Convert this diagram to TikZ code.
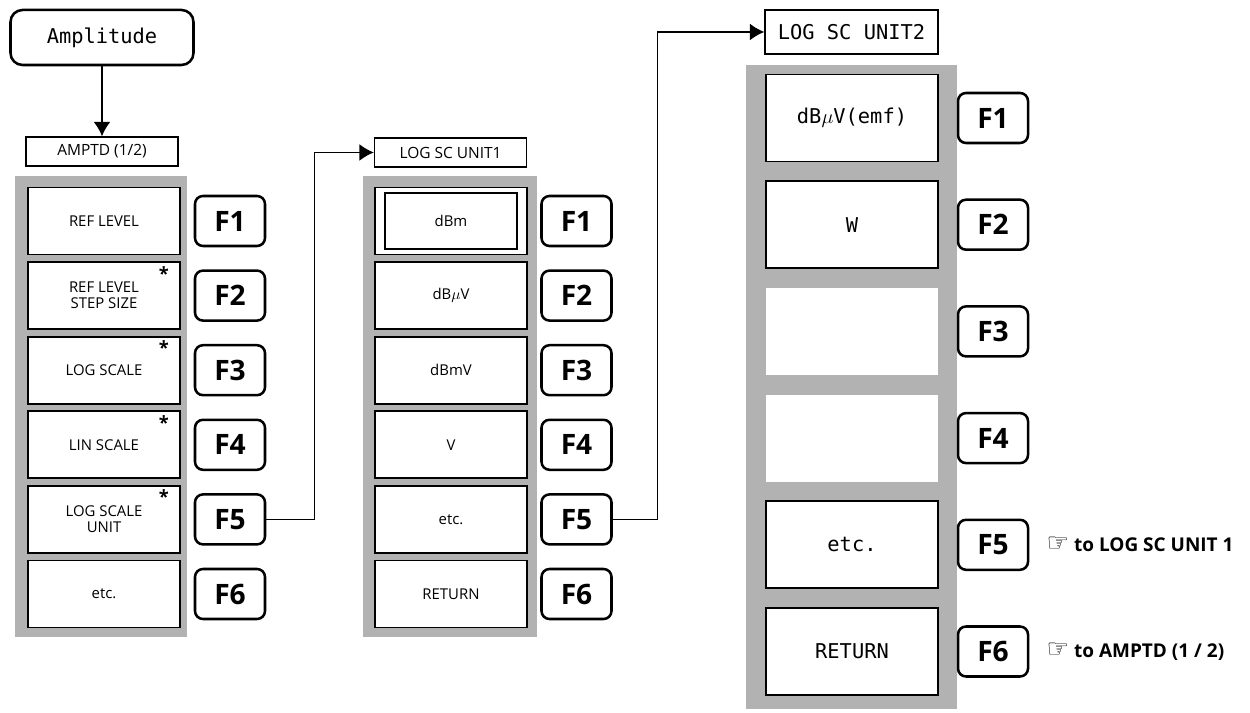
\documentclass[tikz,border=0pt]{standalone}
\usepackage{fontspec}
\setmainfont{Open Sans}
\newfontfamily\monofont{DejaVu Sans Mono}
\newfontfamily\symbfont{DejaVu Sans}
\usetikzlibrary{arrows.meta, positioning}

\begin{document}
\begin{tikzpicture}[x=2.5mm, y=2.5mm,
		>={Latex[length=3.6mm, width=4.2mm]},   %Pfeilspitzen
		panel/.style 2 args={fill=black!30, inner sep=0pt, minimum width=#1, minimum height=#2},
		softbox/.style={draw, line width=1.2pt, fill=white, inner sep=0pt, align=center,
			minimum width=38mm, minimum height=16.75mm, font=\fontsize{10.6}{11.5}\selectfont},
		bigbox/.style={softbox, minimum width=43mm, minimum height=21.75mm,
			font=\monofont\fontsize{14.5}{16}\selectfont},
		blankbox/.style={bigbox, draw=none},
		fkey/.style={draw, line width=1.8pt, rounded corners=2mm, fill=white, inner sep=0pt,
			minimum width=17.5mm, minimum height=12.5mm, font=\bfseries\fontsize{20}{20}\selectfont},
		menutitle/.style={draw, line width=1pt, fill=white, inner sep=0pt,
			minimum width=38mm, minimum height=7.25mm, font=\fontsize{11}{12}\selectfont},
		star/.style={inner sep=0pt, font=\bfseries\fontsize{13}{13}\selectfont},
		note/.style={inner sep=0pt, font=\bfseries\fontsize{13.5}{15}\selectfont}]
		\useasboundingbox (0,0) rectangle (125,71.3);
		%Hintergrund der Menues
		\node[panel={43mm}{115.25mm}] (pa) at (10.1,30.65) {};
		\node[panel={43.5mm}{115.25mm}] (pb) at (45.0,30.65) {};
		\node[panel={52.75mm}{161mm}] (pc) at (85.15,32.6) {};
		% Taste und Menuetitel
		\node[draw, line width=1.8pt, rounded corners=3mm, minimum width=45.75mm, minimum height=13.75mm,
			font=\monofont\fontsize{14.5}{16}\selectfont] (amp) at (10.2,67.55) {Amplitude};
		\node[menutitle] (t1) at (10.2,56.15) {AMPTD (1/2)};
		\node[menutitle] (t2) at (45.05,56.05) {LOG SC UNIT1};
		\node[menutitle, minimum width=43.25mm, minimum height=11mm,
			font=\monofont\fontsize{14.5}{16}\selectfont] (t3) at (85.15,68.1) {LOG SC UNIT2};
		% Menue AMPTD
		\foreach \t [count=\i] in {REF LEVEL, {REF LEVEL\\STEP SIZE}, LOG SCALE, LIN SCALE, {LOG SCALE\\UNIT}, etc.} {
			\node[softbox] (a\i) at (10.4,{49.2-7.46*(\i-1)}) {\t};
			\node[fkey] (fa\i) at (23.0,{49.2-7.46*(\i-1)}) {F\i};
		}
		\foreach \i in {2,...,5} \node[star] at ([shift={(-1.7,-1.2)}]a\i.north east) {*};
		% Menue LOG SC UNIT1
		\foreach \t [count=\i] in {dBm, dB$\mu$V, dBmV, V, etc., RETURN} {
			\node[softbox] (b\i) at (45.1,{49.2-7.46*(\i-1)}) {\t};
			\node[fkey] (fb\i) at (57.65,{49.2-7.46*(\i-1)}) {F\i};
		}
		\draw[line width=1.4pt] ([shift={(1.1,-0.6)}]b1.north west) rectangle ([shift={(-1.1,0.6)}]b1.south east);
		% Menue LOG SC UNIT2
		\foreach \t/\s [count=\i] in {dB$\mu$V(emf)/bigbox, W/bigbox, /blankbox, /blankbox, etc./bigbox, RETURN/bigbox} {
			\node[\s] (c\i) at (85.2,{59.5-10.67*(\i-1)}) {\t};
			\node[fkey] (fc\i) at (99.3,{59.5-10.67*(\i-1)}) {F\i};
		}
		\node[note, right=4.25mm of fc5] {{\symbfont\fontsize{18}{18}\selectfont ☞} to LOG SC UNIT 1};
		\node[note, right=4.25mm of fc6] {{\symbfont\fontsize{18}{18}\selectfont ☞} to AMPTD (1 / 2)};
		%Verbindungen
		\draw[->, line width=1pt] (amp) -- (t1);
		\draw[->, line width=1pt] (fa5.east) -- ++(4.8,0) |- (t2.west);
		\draw[->, line width=1pt] (fb5.east) -- ++(4.5,0) |- (t3.west);
	\end{tikzpicture}
\end{document}
